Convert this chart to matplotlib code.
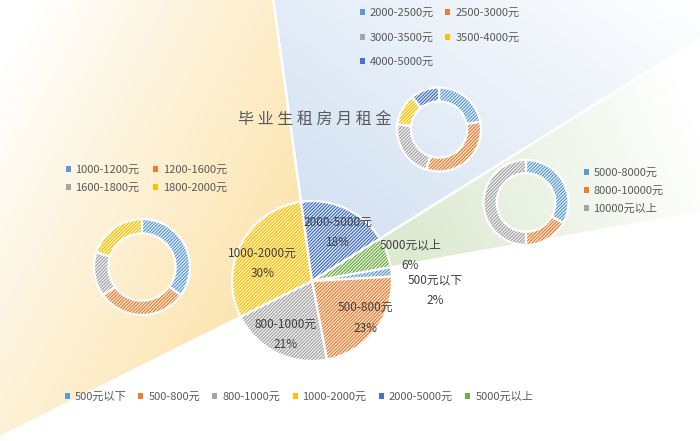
import numpy as np
import matplotlib
matplotlib.use("Agg")
import matplotlib.pyplot as plt
from matplotlib.patches import Wedge, Patch
from matplotlib.colors import to_rgb

plt.rcParams['font.family'] = ['Noto Sans CJK SC', 'DejaVu Sans']
plt.rcParams['hatch.linewidth'] = 0.7

W, H = 700, 441

# main pie: share of graduates by monthly rent (%)
main_labels = ['500元以下', '500-800元', '800-1000元', '1000-2000元', '2000-5000元', '5000元以上']
main_values = [1.9, 22.9, 20.6, 30.2, 18.3, 6.1]

# breakdown rings
low_labels = ['1000-1200元', '1200-1600元', '1600-1800元', '1800-2000元']
low_values = [35, 30, 15, 20]

mid_labels = ['2000-2500元', '2500-3000元', '3000-3500元', '3500-4000元', '4000-5000元']
mid_values = [22, 33, 22, 12, 11]

high_labels = ['5000-8000元', '8000-10000元', '10000元以上']
high_values = [33, 17, 50]

COLORS = ['#5B9BD5', '#ED7D31', '#A5A5A5', '#FFC000', '#4472C4', '#70AD47']
TXT = '#595959'
HATCH = '//////////'

# background fans for slices 1000-2000, 2000-5000, 5000+
# (slice index, colour, full-colour point, white point) in image pixel coords
FANS = [
    (3, '#FBE0A2', (320, 290), (-20, 110)),
    (4, '#D3E1F2', (360, 260), (610, -70)),
    (5, '#DDEAD2', (420, 250), (700, 140)),
]


def gradient(color, full_pt, white_pt):
    # image coords, row 0 at the top (used with origin='upper')
    X, Y = np.meshgrid(np.arange(W) + 0.5, np.arange(H) + 0.5)
    dx, dy = white_pt[0] - full_pt[0], white_pt[1] - full_pt[1]
    t = ((X - full_pt[0]) * dx + (Y - full_pt[1]) * dy) / (dx * dx + dy * dy)
    t = np.clip(t, 0, 1)[..., None]
    c = np.array(to_rgb(color))
    return c * (1 - t) + t


def keys(n):
    return [Patch(facecolor=c, edgecolor='none') for c in COLORS[:n]]


fig = plt.figure(figsize=(7, 4.41), dpi=100)
ax = fig.add_axes([0, 0, 1, 1])

main_c, main_r = (312, H - 281), 80
wedges, _ = ax.pie(main_values, colors=COLORS, startangle=10, counterclock=False,
                   center=main_c, radius=main_r,
                   wedgeprops=dict(edgecolor='white', linewidth=1.6, hatch=HATCH))

# gradient fans behind the pie, following each slice's angles
for idx, col, p0, p1 in FANS:
    w = wedges[idx]
    fan = Wedge(main_c, 1000, w.theta1, w.theta2, facecolor='none',
                edgecolor='white', linewidth=1.6, zorder=0.5)
    ax.add_patch(fan)
    im = ax.imshow(gradient(col, p0, p1), origin='upper', extent=(0, W, 0, H),
                   zorder=0.2, interpolation='bilinear')
    im.set_clip_path(fan)

# slice labels
lab_r = [1.54, 0.81, 0.75, 0.66, 0.69, 1.27]
lab_off = [-10.8, 3.2, -0.2, 8.0, -2.8, -6.1]
for i, w in enumerate(wedges):
    a = np.deg2rad((w.theta1 + w.theta2) / 2 + lab_off[i])
    r = main_r * lab_r[i]
    pct = int(main_values[i] + 0.5)
    ax.text(main_c[0] + r * np.cos(a), main_c[1] + r * np.sin(a),
            f'{main_labels[i]}\n{pct}%', ha='center', va='center',
            fontsize=8.5, color='#404040', linespacing=1.75, zorder=5)

ring = dict(startangle=90, counterclock=False)
low_w, _ = ax.pie(low_values, colors=COLORS[:4], center=(142, H - 267), radius=48,
                  wedgeprops=dict(width=48 * 0.3, edgecolor='white', linewidth=1.6, hatch=HATCH), **ring)
mid_w, _ = ax.pie(mid_values, colors=COLORS[:5], center=(439, H - 129.5), radius=42,
                  wedgeprops=dict(width=42 * 0.33, edgecolor='white', linewidth=1.6, hatch=HATCH), **ring)
high_w, _ = ax.pie(high_values, colors=COLORS[:3], center=(526, H - 202.5), radius=42.5,
                   wedgeprops=dict(width=42.5 * 0.31, edgecolor='white', linewidth=1.6, hatch=HATCH), **ring)

ax.text(315, H - 120, ' '.join('毕业生租房月租金'), ha='center', va='center',
        fontsize=11.5, color=TXT, zorder=5)

leg_kw = dict(frameon=False, fontsize=8, labelcolor=TXT, handlelength=0.45,
              handleheight=0.45, handletextpad=0.45, borderpad=0, borderaxespad=0,
              loc='center left', bbox_transform=ax.transData)

h = keys(5)
order = [0, 2, 4, 1, 3]
leg1 = ax.legend([h[i] for i in order], [mid_labels[i] for i in order], ncol=2,
                 bbox_to_anchor=(360, H - 37.5), labelspacing=1.3, columnspacing=1.0, **leg_kw)
ax.add_artist(leg1)
h = keys(4)
order = [0, 2, 1, 3]
leg2 = ax.legend([h[i] for i in order], [low_labels[i] for i in order], ncol=2,
                 bbox_to_anchor=(65.5, H - 179), labelspacing=0.72, columnspacing=1.2, **leg_kw)
ax.add_artist(leg2)
leg3 = ax.legend(keys(3), high_labels, ncol=1,
                 bbox_to_anchor=(583.5, H - 191), labelspacing=0.72, **leg_kw)
ax.add_artist(leg3)
ax.legend(keys(6), main_labels, ncol=6, bbox_to_anchor=(64.5, H - 397),
          columnspacing=1.1, **leg_kw)

ax.set_xlim(0, W)
ax.set_ylim(0, H)
ax.set_aspect('auto')
ax.axis('off')

fig.savefig('out.png', dpi=100, facecolor='white')
